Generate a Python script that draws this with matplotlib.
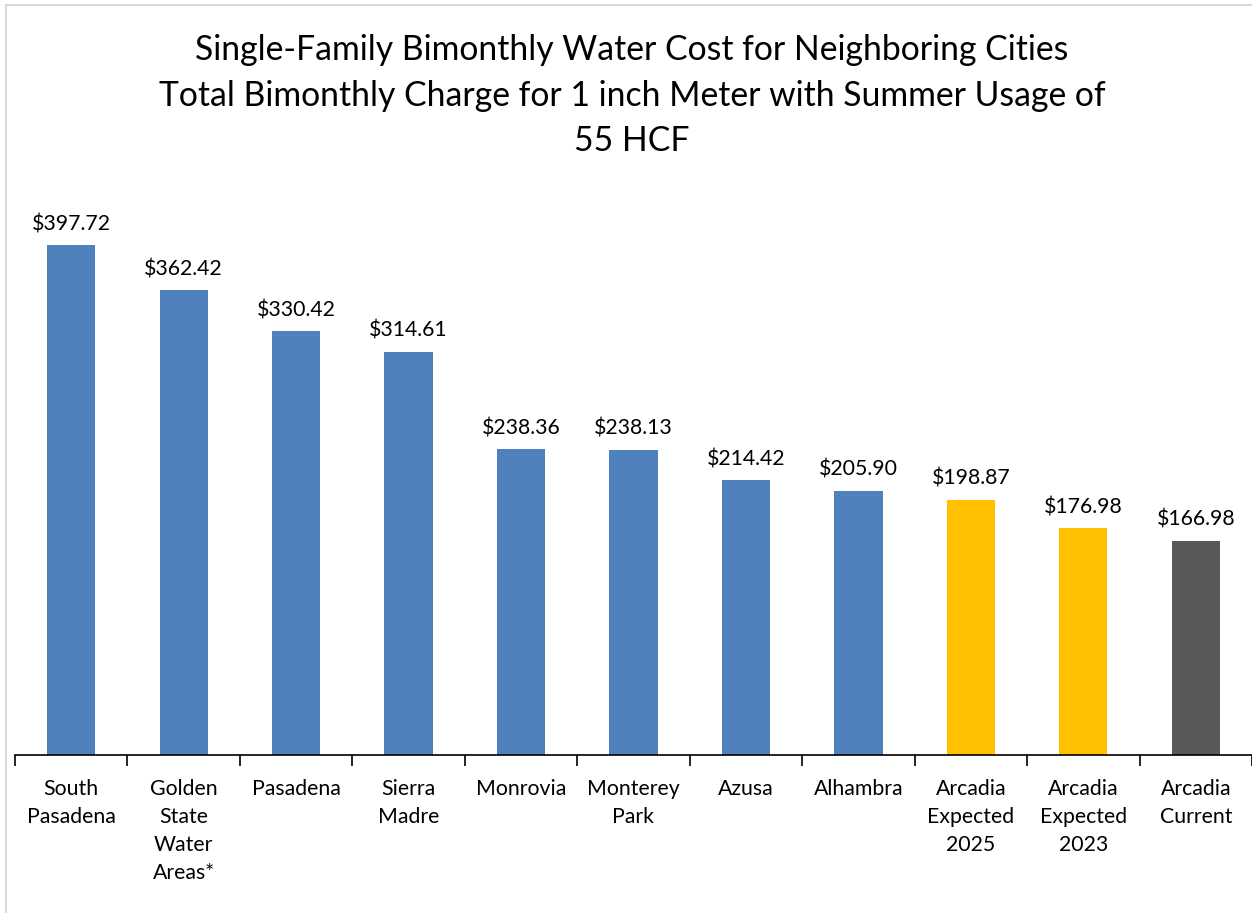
import matplotlib
matplotlib.use("Agg")
import matplotlib.pyplot as plt
from matplotlib.patches import Rectangle

plt.rcParams['font.family'] = ['Lato', 'DejaVu Sans']

categories = ["South\nPasadena", "Golden\nState\nWater\nAreas*", "Pasadena", "Sierra\nMadre",
              "Monrovia", "Monterey\nPark", "Azusa", "Alhambra",
              "Arcadia\nExpected\n2025", "Arcadia\nExpected\n2023", "Arcadia\nCurrent"]
values = [397.72, 362.42, 330.42, 314.61, 238.36, 238.13, 214.42, 205.90, 198.87, 176.98, 166.98]
colors = ["#4F81BD"] * 8 + ["#FFC000", "#FFC000", "#595959"]
title = ("Single-Family Bimonthly Water Cost for Neighboring Cities\n"
         "Total Bimonthly Charge for 1 inch Meter with Summer Usage of\n55 HCF")

W, H = 1252, 913
fig = plt.figure(figsize=(W / 100, H / 100), dpi=100)
fig.patch.set_facecolor("white")

# border
fig.add_artist(Rectangle((6 / W, -0.01), 1.02, (H - 5) / H + 0.01, transform=fig.transFigure,
                         fill=False, edgecolor="#D9D9D9", linewidth=1.5))

ymax = 450
ax_bottom = 158 / H
ax_h = (ymax * 1.282) / H
ax = fig.add_axes([15 / W, ax_bottom, 1237 / W, ax_h])
x = list(range(len(categories)))
bars = ax.bar(x, values, width=0.43, color=colors, zorder=2)
ax.set_xlim(-0.5, len(categories) - 0.5)
ax.set_ylim(0, ymax)

for xi, v in zip(x, values):
    ax.annotate(f"${v:,.2f}", (xi, v), xytext=(0, 8), textcoords="offset points",
                ha="center", va="bottom", fontsize=15.3, color="black")

for s in ["left", "right", "top"]:
    ax.spines[s].set_visible(False)
ax.spines["bottom"].set_color("#000000")
ax.spines["bottom"].set_linewidth(1.2)
ax.set_yticks([])
ax.set_xticks(x)
ax.set_xticklabels(categories, fontsize=15.3, linespacing=1.5, va="top")
ax.tick_params(axis="x", which="major", length=0, pad=17)
ax.set_xticks([i - 0.5 for i in range(len(categories) + 1)], minor=True)
ax.tick_params(axis="x", which="minor", length=8, width=1.2, color="#000000", direction="out")

fig.text(632 / W, 1 - 34 / H, title, ha="center", va="top", fontsize=24.3, linespacing=1.52)

fig.savefig("out.png", dpi=100, facecolor="white")
